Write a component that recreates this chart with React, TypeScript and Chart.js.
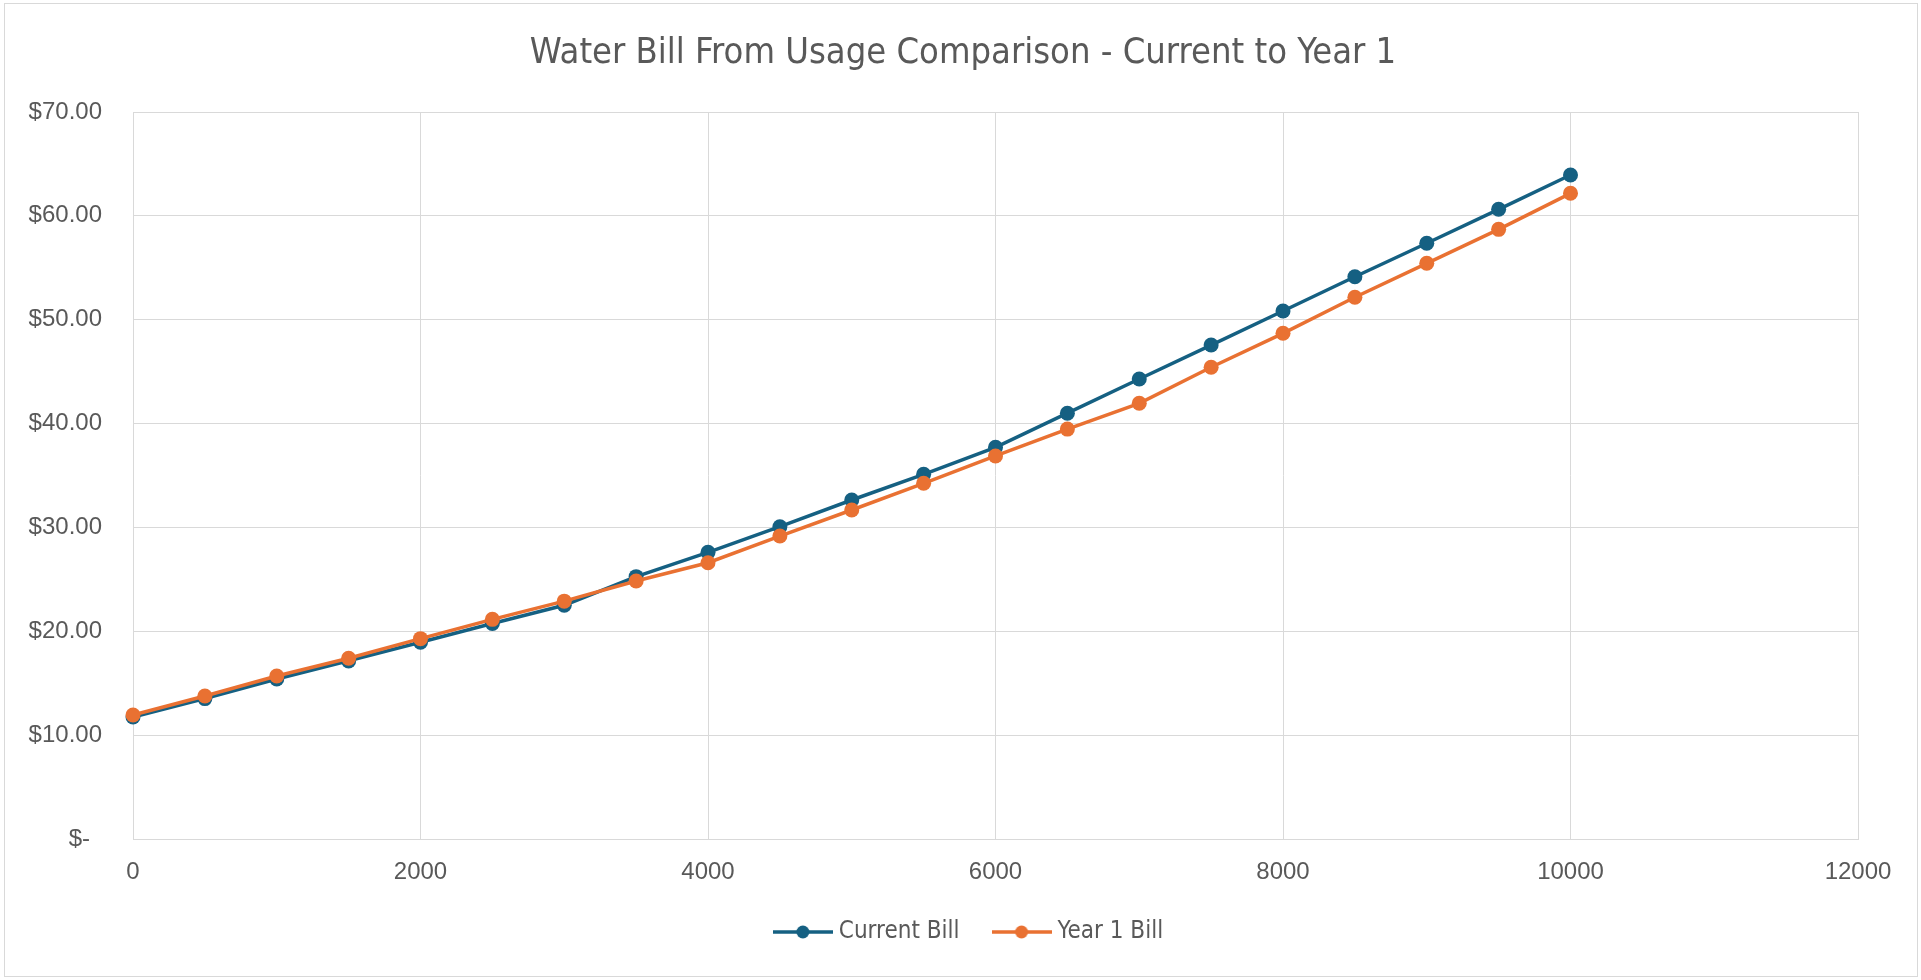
import React, { useEffect, useRef } from "react";
import { Chart, registerables } from "chart.js";

Chart.register(...registerables);

const usage = [0, 500, 1000, 1500, 2000, 2500, 3000, 3500, 4000, 4500, 5000, 5500, 6000, 6500, 7000, 7500, 8000, 8500, 9000, 9500, 10000];
const currentBill = [11.75, 13.52, 15.4, 17.15, 18.95, 20.75, 22.5, 25.26, 27.6, 30.07, 32.64, 35.11, 37.71, 41.0, 44.29, 47.56, 50.84, 54.14, 57.36, 60.63, 63.93];
const year1Bill = [11.94, 13.77, 15.69, 17.4, 19.29, 21.15, 22.9, 24.84, 26.6, 29.17, 31.68, 34.25, 36.88, 39.47, 41.95, 45.42, 48.69, 52.16, 55.43, 58.7, 62.17];
const seriesNames = ["Current Bill", "Year 1 Bill"];
const seriesColors = ["#156082", "#E97132"];
const chartTitle = "Water Bill From Usage Comparison - Current to Year 1";
const xMin = 0;
const xMax = 12000;
const xStep = 2000;
const yMin = 0;
const yMax = 70;
const yStep = 10;

const W = 1921;
const H = 980;
const textColor = "#595959";
const gridColor = "#d9d9d9";
const narrowFont = "'Liberation Sans Narrow', 'Arial Narrow', 'DejaVu Sans Condensed', sans-serif";
const tickFont = "'Liberation Sans', Arial, sans-serif";

function makeLegendIcon(color: string): HTMLCanvasElement {
  const c = document.createElement("canvas");
  c.width = 60;
  c.height = 16;
  const ctx = c.getContext("2d")!;
  ctx.strokeStyle = color;
  ctx.lineWidth = 3.5;
  ctx.beginPath();
  ctx.moveTo(0, 8);
  ctx.lineTo(60, 8);
  ctx.stroke();
  ctx.fillStyle = color;
  ctx.beginPath();
  ctx.arc(30, 8, 6.5, 0, Math.PI * 2);
  ctx.fill();
  return c;
}

const frame = {
  id: "frame",
  afterLayout(chart: any) {
    if (chart.legend) {
      chart.legend.left += 42;
      chart.legend.right += 42;
    }
    if (chart.titleBlock) {
      chart.titleBlock.left += 34;
      chart.titleBlock.right += 34;
    }
  },
  beforeDraw(chart: any) {
    const ctx = chart.ctx;
    ctx.save();
    ctx.fillStyle = "#ffffff";
    ctx.fillRect(0, 0, chart.width, chart.height);
    ctx.strokeStyle = gridColor;
    ctx.lineWidth = 1;
    ctx.strokeRect(4.5, 3.5, 1913, 973);
    ctx.restore();
  },
};

export default function App() {
  const ref = useRef<HTMLCanvasElement | null>(null);

  useEffect(() => {
    document.body.style.margin = "0";
    const canvas = ref.current!;
    const icons = seriesColors.map((c) => makeLegendIcon(c));
    const series = [currentBill, year1Bill];

    const chart = new Chart(canvas, {
      type: "line",
      data: {
        datasets: series.map((vals, i) => ({
          label: seriesNames[i],
          data: usage.map((u, j) => ({ x: u, y: vals[j] })),
          borderColor: seriesColors[i],
          backgroundColor: seriesColors[i],
          borderWidth: 3.5,
          pointRadius: 7.5,
          pointHoverRadius: 7.5,
          pointBackgroundColor: seriesColors[i],
          pointBorderColor: seriesColors[i],
          pointBorderWidth: 0,
          tension: 0,
          fill: false,
          clip: false as any,
          order: i === 0 ? 1 : 0,
        })),
      },
      options: {
        responsive: false,
        animation: false,
        devicePixelRatio: 1,
        layout: { padding: { left: 0, right: 63, top: 0, bottom: 26 } },
        plugins: {
          tooltip: { enabled: false },
          title: {
            display: true,
            text: chartTitle,
            color: textColor,
            font: { family: narrowFont, size: 36, weight: "normal" as any },
            padding: { top: 32.4, bottom: 36.4 },
          },
          legend: {
            display: true,
            position: "bottom",
            labels: {
              usePointStyle: true,
              pointStyleWidth: 48,
              padding: 38,
              color: textColor,
              font: { family: narrowFont, size: 24 },
              generateLabels: () =>
                seriesNames.map((n, i) => ({
                  text: n,
                  pointStyle: icons[i] as any,
                  fillStyle: seriesColors[i],
                  strokeStyle: seriesColors[i],
                  lineWidth: 0,
                  hidden: false,
                  datasetIndex: i,
                  fontColor: textColor,
                })),
            },
          },
        },
        scales: {
          x: {
            type: "linear",
            min: xMin,
            max: xMax,
            afterFit: (scale: any) => {
              scale.height = 43;
            },
            ticks: {
              stepSize: xStep,
              color: textColor,
              font: { family: tickFont, size: 24 },
              padding: 19,
              maxRotation: 0,
              callback: (v: any) => String(v),
            },
            grid: { color: gridColor, lineWidth: 1, drawTicks: false },
            border: { color: gridColor, width: 1 },
          },
          y: {
            type: "linear",
            min: yMin,
            max: yMax,
            afterFit: (scale: any) => {
              scale.width = 133;
            },
            ticks: {
              stepSize: yStep,
              color: textColor,
              font: { family: tickFont, size: 24 },
              padding: 31,
              callback: (v: any) => (Number(v) === 0 ? "$-\u2002" : "$" + Number(v).toFixed(2)),
            },
            grid: { color: gridColor, lineWidth: 1, drawTicks: false },
            border: { color: gridColor, width: 1 },
          },
        },
      },
      plugins: [frame],
    });

    return () => chart.destroy();
  }, []);

  return (
    <div style={{ position: "fixed", left: 0, top: 0, width: W, height: H, background: "#fff" }}>
      <canvas ref={ref} width={W} height={H} style={{ width: W, height: H, display: "block" }} />
    </div>
  );
}
